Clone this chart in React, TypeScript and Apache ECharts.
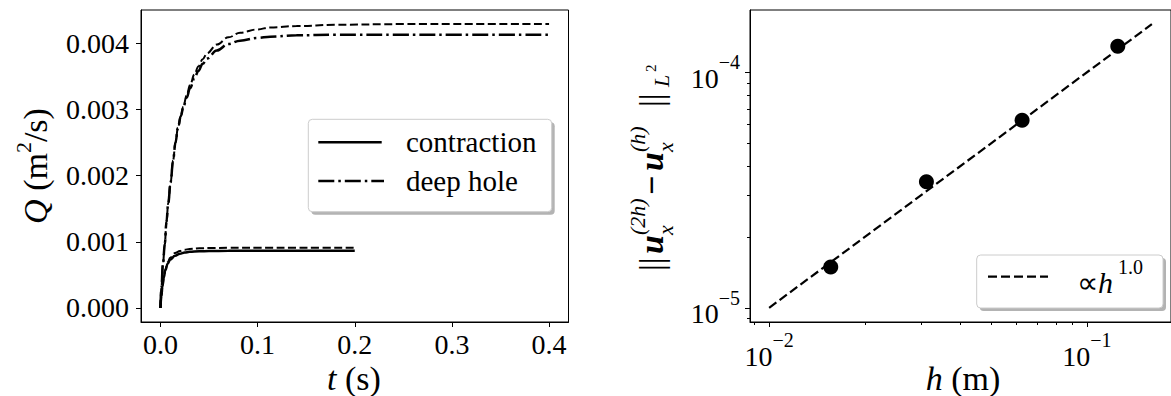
import React, { useEffect, useRef } from "react";
import * as echarts from "echarts";

// ---------- data ----------
const tContraction = [0, 0.001, 0.002, 0.0035, 0.005, 0.0075, 0.01, 0.015, 0.02, 0.025, 0.03, 0.04, 0.05, 0.07, 0.1, 0.15, 0.2];
const qContraction = [0, 0.00018, 0.00032, 0.00046, 0.00057, 0.00067, 0.00073, 0.00079, 0.00082, 0.000838, 0.000848, 0.000857, 0.000861, 0.000864, 0.000865, 0.000865, 0.000865];
const qContractionRef = [0, 0.00018, 0.00032, 0.00047, 0.00058, 0.00069, 0.00076, 0.00083, 0.00086, 0.00088, 0.000892, 0.000902, 0.000906, 0.000909, 0.00091, 0.00091, 0.00091];

const tDeepHole = [0, 0.001, 0.0025, 0.0045, 0.0062, 0.008, 0.0105, 0.013, 0.0155, 0.018, 0.021, 0.0235, 0.027, 0.0305, 0.035, 0.039, 0.0435, 0.048, 0.058, 0.07, 0.082, 0.1, 0.113, 0.14, 0.18, 0.25, 0.32, 0.4];
const qDeepHole = [0, 0.0003, 0.00065, 0.00097, 0.0013, 0.00158, 0.0019, 0.00223, 0.0025, 0.00272, 0.0029, 0.00303, 0.00318, 0.00332, 0.00347, 0.00358, 0.00369, 0.00377, 0.00389, 0.00399, 0.00404, 0.00408, 0.0041, 0.00412, 0.00413, 0.00413, 0.00413, 0.00413];
const qDeepHoleRef = [0, 0.0003, 0.00065, 0.00097, 0.0013, 0.00158, 0.0019, 0.00223, 0.0025, 0.00272, 0.0029, 0.00304, 0.00321, 0.00337, 0.00353, 0.00365, 0.00376, 0.00385, 0.00398, 0.00409, 0.00416, 0.00421, 0.00424, 0.00426, 0.00428, 0.00429, 0.00429, 0.00429];

const leftXTicks = [0, 0.1, 0.2, 0.3, 0.4];
const leftYTicks = [0, 0.001, 0.002, 0.003, 0.004];

const hValues = [0.015625, 0.03125, 0.0625, 0.125];
const errValues = [1.49e-5, 3.43e-5, 6.25e-5, 1.29e-4];
const fitH = [0.01, 0.16];
const fitErr = [1e-5, 1.6e-4];

const hMajorTicks = [0.01, 0.1];
const hMinorTicks = [0.009, 0.02, 0.03, 0.04, 0.05, 0.06, 0.07, 0.08, 0.09];
const errMajorTicks = [1e-5, 1e-4];
const errMinorTicks = [9e-6, 2e-5, 3e-5, 4e-5, 5e-5, 6e-5, 7e-5, 8e-5, 9e-5];

const legendLabels = ["contraction", "deep hole"];

// ---------- styles ----------
const SERIF = "Liberation Serif";
const L10 = Math.log10;
const TICK_FS = 28;
const NAME_FS = 34;

const supRich = {
  b: { fontSize: TICK_FS, fontFamily: SERIF, color: "#000", verticalAlign: "bottom", padding: [12, 0, 0, 0] },
  s: { fontSize: 20, fontFamily: SERIF, color: "#000", verticalAlign: "top" },
};

const powLabel = (v: number) => `{b|10}{s|\u2212${Math.round(-v)}}`;

const txt = (x: number, y: number, text: string, size: number, extra: any = {}) => ({
  type: "text", x, y,
  style: { text, fontSize: size, fontFamily: SERIF, fill: "#000", align: "left", verticalAlign: "middle", ...extra },
});

export default function App() {
  const ref = useRef<HTMLDivElement>(null);

  useEffect(() => {
    if (!ref.current) return;
    const chart = echarts.init(ref.current, null, { renderer: "svg" });

    const lx = { min: L10(0.01) - 0.0602, max: L10(0.16) + 0.0602 };
    const ly = { min: L10(1e-5) - 0.0602, max: L10(1.6e-4) + 0.0602 };

    const axisLineBlack = { show: true, onZero: false, lineStyle: { color: "#000", width: 1 } };

    const option: any = {
      animation: false,
      backgroundColor: "#fff",
      textStyle: { fontFamily: SERIF },
      grid: [
        { left: 141, top: 10, width: 427.5, height: 312, show: true, borderColor: "#000", borderWidth: 1, backgroundColor: "transparent" },
        { left: 750, top: 10, width: 425, height: 312, show: true, borderColor: "#000", borderWidth: 1, backgroundColor: "transparent" },
      ],
      xAxis: [
        {
          type: "value", gridIndex: 0, min: -0.02, max: 0.42, position: "bottom",
          axisLine: axisLineBlack,
          axisTick: { show: true, length: 5, customValues: leftXTicks, lineStyle: { color: "#000" } },
          axisLabel: { customValues: leftXTicks, formatter: (v: number) => v.toFixed(1), fontSize: TICK_FS, fontFamily: SERIF, color: "#000", margin: 8 },
          splitLine: { show: false },
        },
        {
          type: "value", gridIndex: 1, min: lx.min, max: lx.max, position: "bottom",
          axisLine: axisLineBlack,
          axisTick: { show: true, length: 5, customValues: hMajorTicks.map(L10), lineStyle: { color: "#000" } },
          axisLabel: { customValues: hMajorTicks.map(L10), formatter: powLabel, rich: supRich, margin: 8 },
          splitLine: { show: false },
        },
        {
          type: "value", gridIndex: 1, min: lx.min, max: lx.max, position: "bottom",
          axisLine: { show: false, onZero: false },
          axisTick: { show: true, length: 3, customValues: hMinorTicks.map(L10), lineStyle: { color: "#000" } },
          axisLabel: { show: false },
          splitLine: { show: false },
        },
      ],
      yAxis: [
        {
          type: "value", gridIndex: 0, min: -0.000212, max: 0.004503, position: "left",
          axisLine: axisLineBlack,
          axisTick: { show: true, length: 5, customValues: leftYTicks, lineStyle: { color: "#000" } },
          axisLabel: { customValues: leftYTicks, formatter: (v: number) => v.toFixed(3), fontSize: TICK_FS, fontFamily: SERIF, color: "#000", margin: 12 },
          splitLine: { show: false },
        },
        {
          type: "value", gridIndex: 1, min: ly.min, max: ly.max, position: "left",
          axisLine: axisLineBlack,
          axisTick: { show: true, length: 5, customValues: errMajorTicks.map(L10), lineStyle: { color: "#000" } },
          axisLabel: { customValues: errMajorTicks.map(L10), formatter: powLabel, rich: supRich, margin: 10 },
          splitLine: { show: false },
        },
        {
          type: "value", gridIndex: 1, min: ly.min, max: ly.max, position: "left",
          axisLine: { show: false, onZero: false },
          axisTick: { show: true, length: 3, customValues: errMinorTicks.map(L10), lineStyle: { color: "#000" } },
          axisLabel: { show: false },
          splitLine: { show: false },
        },
      ],
      series: [
        {
          name: legendLabels[0], type: "line", xAxisIndex: 0, yAxisIndex: 0, showSymbol: false, symbol: "none",
          smooth: 0.4, smoothMonotone: "x",
          lineStyle: { color: "#000", width: 2.5, type: "solid" },
          data: tContraction.map((t, i) => [t, qContraction[i]]),
        },
        {
          name: "contraction ref", type: "line", xAxisIndex: 0, yAxisIndex: 0, showSymbol: false, symbol: "none",
          smooth: 0.4, smoothMonotone: "x",
          lineStyle: { color: "#000", width: 2, type: [8, 3.5] },
          data: tContraction.map((t, i) => [t, qContractionRef[i]]),
        },
        {
          name: legendLabels[1], type: "line", xAxisIndex: 0, yAxisIndex: 0, showSymbol: false, symbol: "none",
          smooth: 0.4, smoothMonotone: "x",
          lineStyle: { color: "#000", width: 2.5, type: [16, 4, 2.5, 4] },
          data: tDeepHole.map((t, i) => [t, qDeepHole[i]]),
        },
        {
          name: "deep hole ref", type: "line", xAxisIndex: 0, yAxisIndex: 0, showSymbol: false, symbol: "none",
          smooth: 0.4, smoothMonotone: "x",
          lineStyle: { color: "#000", width: 2, type: [8, 3.5] },
          data: tDeepHole.map((t, i) => [t, qDeepHoleRef[i]]),
        },
        {
          name: "fit", type: "line", xAxisIndex: 1, yAxisIndex: 1, showSymbol: false, symbol: "none",
          lineStyle: { color: "#000", width: 2.2, type: [9, 4] },
          data: fitH.map((h, i) => [L10(h), L10(fitErr[i])]),
        },
        {
          name: "error", type: "scatter", xAxisIndex: 1, yAxisIndex: 1, symbol: "circle", symbolSize: 15,
          itemStyle: { color: "#000", opacity: 1 },
          data: hValues.map((h, i) => [L10(h), L10(errValues[i])]),
        },
      ],
      graphic: [
        // axis names
        {
          type: "text", x: 32, y: 166, rotation: Math.PI / 2,
          style: {
            text: "{i|Q} {n|(m}{s|2}{n|/s)}", align: "center", verticalAlign: "middle",
            fontSize: NAME_FS, fontFamily: SERIF, fill: "#000",
            rich: {
              i: { fontSize: NAME_FS, fontFamily: SERIF, fontStyle: "italic", color: "#000", verticalAlign: "bottom", padding: [6, 0, 0, 0] },
              n: { fontSize: NAME_FS, fontFamily: SERIF, color: "#000", verticalAlign: "bottom", padding: [6, 0, 0, 0] },
              s: { fontSize: 22, fontFamily: SERIF, color: "#000", verticalAlign: "top" },
            },
          },
        },
        {
          type: "text", x: 354, y: 378.5,
          style: {
            text: "{i|t} (s)", align: "center", verticalAlign: "middle",
            fontSize: NAME_FS, fontFamily: SERIF, fill: "#000",
            rich: { i: { fontSize: NAME_FS, fontFamily: SERIF, fontStyle: "italic", color: "#000" } },
          },
        },
        {
          type: "text", x: 963, y: 378.5,
          style: {
            text: "{i|h} (m)", align: "center", verticalAlign: "middle",
            fontSize: NAME_FS, fontFamily: SERIF, fill: "#000",
            rich: { i: { fontSize: NAME_FS, fontFamily: SERIF, fontStyle: "italic", color: "#000" } },
          },
        },
        // right y-axis name: ||u_x^(2h) - u_x^(h)||_{L^2}
        {
          type: "group", x: 651, y: 273, rotation: Math.PI / 2,
          children: [
            txt(2, 0, "||", NAME_FS),
            txt(19, 0, "u", NAME_FS, { fontStyle: "italic", fontWeight: "bold" }),
            txt(38, -14, "(2h)", 22, { fontStyle: "italic" }),
            txt(38, 14, "x", 22, { fontStyle: "italic" }),
            txt(78, 0, "\u2212", NAME_FS, { fontWeight: "bold" }),
            txt(102, 0, "u", NAME_FS, { fontStyle: "italic", fontWeight: "bold" }),
            txt(121, -14, "(h)", 22, { fontStyle: "italic" }),
            txt(121, 14, "x", 22, { fontStyle: "italic" }),
            txt(166, 0, "||", NAME_FS),
            txt(186, 10, "L", 22, { fontStyle: "italic" }),
            txt(201, 0, "2", 15),
          ],
        },
        // left legend
        { type: "rect", shape: { x: 311.3, y: 122.3, width: 243.4, height: 92.4, r: 4 }, style: { fill: "#b3b3b3" }, z: 100 },
        { type: "rect", shape: { x: 308.3, y: 119.3, width: 243.4, height: 92.4, r: 4 }, style: { fill: "#fff", stroke: "#cccccc", lineWidth: 1 }, z: 101 },
        { type: "line", shape: { x1: 318.3, y1: 142.3, x2: 381.7, y2: 142.3 }, style: { stroke: "#000", lineWidth: 2.5 }, z: 102 },
        { type: "line", shape: { x1: 318.3, y1: 181, x2: 384, y2: 181 }, style: { stroke: "#000", lineWidth: 2.5, lineDash: [16, 4, 2.5, 4] }, z: 102 },
        { ...txt(406, 142, legendLabels[0], 29), z: 102 },
        { ...txt(406, 181, legendLabels[1], 29), z: 102 },
        // right legend
        { type: "rect", shape: { x: 979.7, y: 258, width: 186.3, height: 53, r: 4 }, style: { fill: "#b3b3b3" }, z: 100 },
        { type: "rect", shape: { x: 976.7, y: 255, width: 186.3, height: 53, r: 4 }, style: { fill: "#fff", stroke: "#cccccc", lineWidth: 1 }, z: 101 },
        { type: "line", shape: { x1: 988, y1: 276.7, x2: 1048, y2: 276.7 }, style: { stroke: "#000", lineWidth: 2.2, lineDash: [9, 4] }, z: 102 },
        {
          type: "text", x: 1077, y: 277, z: 102,
          style: {
            text: "{n|\u221D}{i|h}{s|1.0}", align: "left", verticalAlign: "middle", fontFamily: SERIF,
            rich: {
              n: { fontSize: 30, fontFamily: SERIF, color: "#000", verticalAlign: "bottom", padding: [10, 0, 0, 0] },
              i: { fontSize: 30, fontFamily: SERIF, fontStyle: "italic", color: "#000", verticalAlign: "bottom", padding: [10, 0, 0, 0] },
              s: { fontSize: 20, fontFamily: SERIF, color: "#000", verticalAlign: "top", padding: [0, 0, 0, 5] },
            },
          },
        },
      ],
    };

    chart.setOption(option);
    return () => chart.dispose();
  }, []);

  return (
    <div style={{ position: "fixed", left: 0, top: 0, width: 1171, height: 396, overflow: "hidden", background: "#fff" }}>
      <div ref={ref} style={{ width: 1171, height: 396 }} />
    </div>
  );
}
